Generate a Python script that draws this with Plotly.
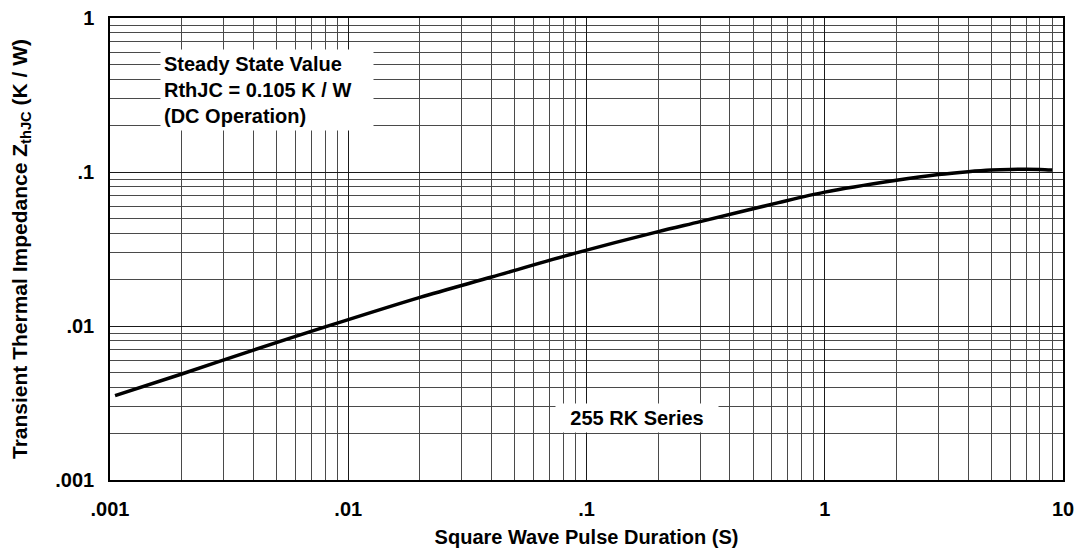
import plotly.graph_objects as go

# Curve (log-log)
pulse_s = [0.00105, 0.002, 0.004, 0.008, 0.02, 0.04, 0.089, 0.2, 0.3, 0.64,
           1.0, 2.0, 3.0, 4.0, 5.0, 6.0, 8.0, 9.0]
zthjc = [0.00353, 0.00488, 0.00697, 0.00986, 0.01535, 0.0208, 0.0296, 0.041,
         0.0476, 0.0633, 0.074, 0.0883, 0.0962, 0.1005, 0.103, 0.104, 0.104, 0.103]

x_major = [0.001, 0.01, 0.1, 1, 10]
x_labels = [".001", ".01", ".1", "1", "10"]
y_major = [0.001, 0.01, 0.1, 1]
y_labels = [".001", ".01", ".1", "1"]
x_minor = [m * d for d in [0.001, 0.01, 0.1, 1] for m in range(2, 10)]
y_minor = [m * d for d in [0.001, 0.01, 0.1] for m in range(2, 10)]

FONT = "Arial, Liberation Sans, Helvetica, sans-serif"

fig = go.Figure()
fig.add_trace(go.Scatter(
    x=pulse_s, y=zthjc, mode="lines",
    line=dict(color="black", width=3.5, shape="spline", smoothing=0.8),
    hoverinfo="skip",
))

# page body adds an 8px offset; margins compensate
fig.update_layout(
    width=1087, height=552,
    margin=dict(l=102, r=32, t=10, b=80, autoexpand=False),
    plot_bgcolor="white", paper_bgcolor="white",
    showlegend=False,
    font=dict(family=FONT, size=20, color="black", weight="bold"),
)

common = dict(
    type="log", showgrid=True, gridcolor="#1a1a1a", gridwidth=1,
    showline=True, linecolor="black", linewidth=1.5, mirror=True,
    ticks="", zeroline=False, automargin=False, ticklabeloverflow="allow",
    tickfont=dict(family=FONT, size=20, color="black", weight="bold"),
)

fig.update_xaxes(
    range=[-3, 1], tickvals=x_major, ticktext=x_labels,
    minor=dict(tickvals=x_minor, showgrid=True, gridcolor="#4a4a4a", gridwidth=1),
    ticklabelstandoff=10,
    title=dict(text="Square Wave Pulse Duration (S)", standoff=11,
               font=dict(family=FONT, size=20, color="black", weight="bold")),
    **common,
)
fig.update_yaxes(
    range=[-3, 0], tickvals=y_major, ticktext=y_labels,
    minor=dict(tickvals=y_minor, showgrid=True, gridcolor="#4a4a4a", gridwidth=1),
    ticklabelstandoff=10,
    title=dict(text="Transient Thermal Impedance Z<sub>thJC</sub> (K / W)", standoff=22,
               font=dict(family=FONT, size=21, color="black", weight="bold")),
    **common,
)

fig.add_annotation(
    xref="paper", yref="paper", x=0.0525, y=0.932,
    xanchor="left", yanchor="top",
    text="Steady State Value<br>RthJC = 0.105 K / W<br>(DC Operation)",
    align="left", showarrow=False, bgcolor="white", borderpad=3, width=206,
    font=dict(family=FONT, size=20, color="black", weight="bold"),
)
fig.add_annotation(
    xref="paper", yref="paper", x=0.553, y=0.135,
    xanchor="center", yanchor="middle",
    text="255 RK Series", align="center", showarrow=False,
    bgcolor="white", borderpad=3, width=156,
    font=dict(family=FONT, size=20, color="black", weight="bold"),
)

fig.write_html("out.html")
